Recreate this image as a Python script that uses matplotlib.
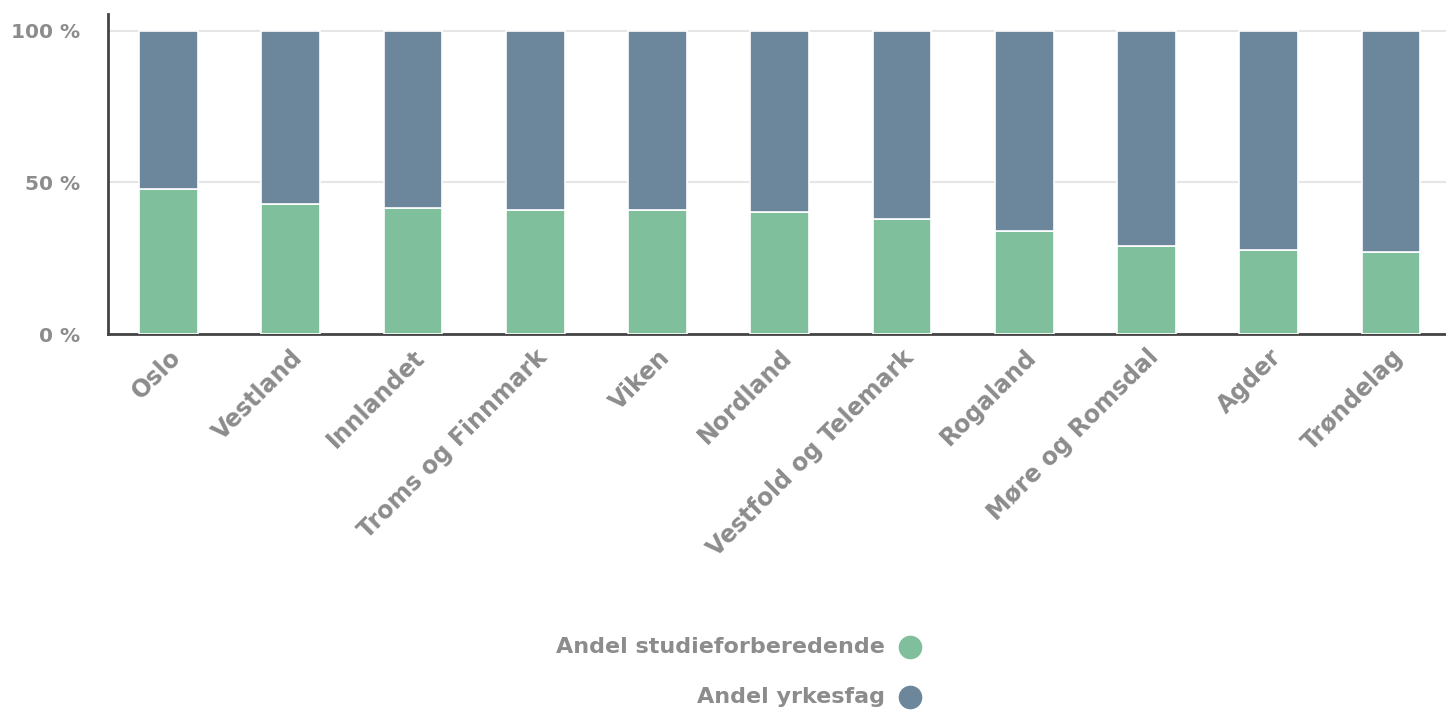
import matplotlib.pyplot as plt
import numpy as np

fylker = ["Oslo", "Vestland", "Innlandet", "Troms og Finnmark", "Viken", "Nordland",
          "Vestfold og Telemark", "Rogaland", "Møre og Romsdal", "Agder", "Trøndelag"]
studie = [48.0, 42.9, 41.6, 40.9, 40.9, 40.3, 38.0, 34.0, 29.0, 27.7, 27.1]
yrkesfag = [100 - v for v in studie]
y_ticks = [0, 50, 100]
y_labels = ["0 %", "50 %", "100 %"]

green = "#7fbf9b"
blue = "#6c879c"
grey = "#8c8c8c"

fig = plt.figure(figsize=(14.46, 7.10), dpi=100)
ax = fig.add_axes([108 / 1446, 1 - 334 / 710, 1 - 108 / 1446, (334 - 14) / 710])

x = np.arange(len(fylker))
ax.bar(x, studie, width=0.48, color=green, edgecolor="white", linewidth=1.2, zorder=3)
ax.bar(x, yrkesfag, bottom=studie, width=0.48, color=blue, edgecolor="white",
       linewidth=1.2, zorder=3)

ax.set_xlim(-0.495, 10.45)
ax.set_ylim(0, 105.6)
ax.set_yticks(y_ticks)
ax.set_yticklabels(y_labels, color=grey, fontsize=14.5, fontweight="bold")
ax.yaxis.grid(True, color="#e6e6e6", linewidth=1.5, zorder=0)
ax.tick_params(axis="y", length=0, pad=20)
ax.tick_params(axis="x", length=0, pad=8)
ax.set_xticks(x)
ax.set_xticklabels(fylker, rotation=45, ha="right", rotation_mode="anchor",
                   color=grey, fontsize=17, fontweight="bold")
for s in ["top", "right"]:
    ax.spines[s].set_visible(False)
for s in ["left", "bottom"]:
    ax.spines[s].set_color("#444444")
    ax.spines[s].set_linewidth(2)

# legend at the bottom, text to the left of the marker
legend_items = [("Andel studieforberedende", green, 647), ("Andel yrkesfag", blue, 697)]
for label, col, ypix in legend_items:
    fig.text(885 / 1446, 1 - ypix / 710, label, ha="right", va="center",
             color=grey, fontsize=16, fontweight="bold")
    fig.add_artist(plt.Line2D([910 / 1446], [1 - ypix / 710], marker="o",
                              markersize=16, color=col, transform=fig.transFigure))

fig.savefig("out.png", dpi=100)
